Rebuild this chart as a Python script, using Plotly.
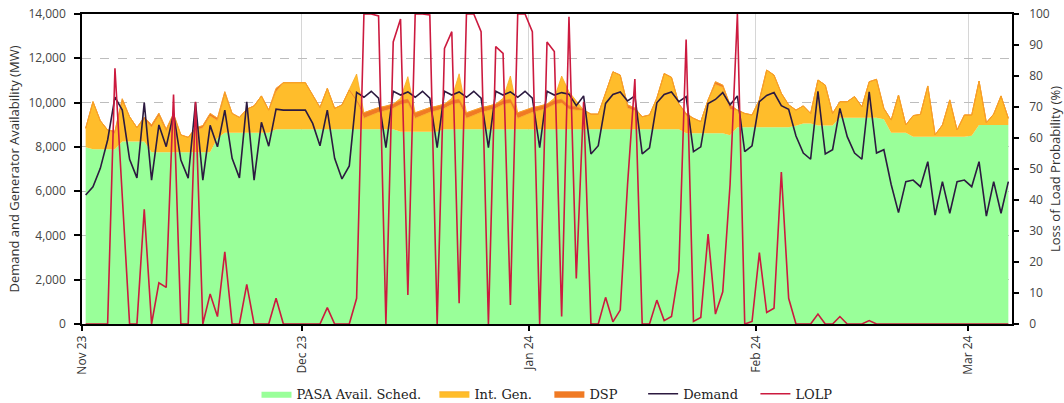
import pandas as pd
import plotly.graph_objects as go

# Daily values, 1 Nov 2023 .. 6 Mar 2024 (plotted at midday)
start_day = "2023-11-01 12:00"
n_days = 127

pasa = [7980, 7890, 7890, 7890, 7890, 8240, 8240, 8240, 8240, 7760,
        7760, 7760, 7760, 7760, 7760, 7760, 7760, 7760, 8400, 8640,
        8640, 8640, 8640, 8640, 8640, 8640, 8800, 8800, 8800, 8800,
        8800, 8800, 8800, 8800, 8800, 8800, 8800, 8800, 8800, 8800,
        8800, 8800, 8800, 8680, 8680, 8680, 8680, 8680, 8680, 8800,
        8800, 8800, 8800, 8800, 8800, 8800, 8800, 8800, 8800, 8800,
        8800, 8800, 8800, 8800, 8800, 8800, 8800, 8800, 8800, 8800,
        8800, 8800, 8800, 8800, 8800, 8800, 8800, 8800, 8800, 8800,
        8800, 8800, 8620, 8620, 8620, 8620, 8620, 8620, 8520, 8880,
        8880, 8880, 8880, 8880, 8880, 8880, 8880, 8950, 9050, 9050,
        8960, 8960, 8960, 9320, 9320, 9320, 9320, 9320, 9320, 9250,
        8640, 8640, 8640, 8460, 8460, 8460, 8460, 8460, 8460, 8460,
        8460, 8500, 8990, 8990, 8990, 8990, 8990]

# Int. Gen. drawn below the DSP band
int_gen = [860, 2150, 1290, 870, 720, 1800, 1120, 630, 1000, 1130,
           1640, 940, 1620, 780, 670, 990, 1100, 1630, 790, 1720,
           870, 690, 1060, 1210, 1660, 1020, 1690, 2100, 2100, 2100,
           2100, 1540, 980, 1840, 940, 1090, 1770, 1300, 490, 630,
           760, 840, 940, 1230, 1300, 610, 750, 880, 960, 940,
           1110, 1180, 490, 630, 760, 840, 940, 1110, 1180, 490,
           630, 760, 840, 940, 1110, 1180, 900, 860, 860, 680,
           680, 1620, 2590, 2440, 950, 830, 560, 640, 1400, 2510,
           2340, 1150, 790, 670, 520, 1500, 2200, 2070, 1170, 780,
           630, 560, 1240, 2590, 2360, 1540, 1020, 710, 800, 460,
           2060, 1830, 550, 720, 720, 950, 490, 1620, 1730, 490,
           570, 1700, 350, 950, 1010, 2290, 80, 530, 1660, 300,
           980, 940, 1980, 100, 490, 1310, 300]

dsp = [0, 0, 0, 0, 100, 130, 0, 0, 100, 100,
       120, 100, 120, 0, 0, 100, 100, 120, 100, 130,
       0, 0, 0, 0, 0, 0, 150, 0, 0, 0,
       0, 0, 0, 0, 0, 0, 0, 0, 250, 230,
       210, 200, 190, 180, 170, 250, 230, 210, 200, 190,
       180, 170, 250, 230, 210, 200, 190, 180, 170, 250,
       230, 210, 200, 190, 180, 170, 150, 150, 0, 0,
       0, 0, 0, 0, 150, 120, 0, 0, 0, 0,
       0, 0, 100, 0, 0, 0, 120, 100, 200, 0,
       0, 0, 0, 0, 0, 0, 0, 0, 0, 0,
       0, 0, 0, 0, 0, 0, 0, 0, 0, 0,
       0, 0, 0, 0, 0, 0, 0, 0, 0, 0,
       0, 0, 0, 0, 0, 0, 0]

# Int. Gen. peaks drawn above the DSP band
int_gen_peak = [0, 0, 0, 0, 0, 0, 0, 0, 0, 0,
                0, 0, 0, 0, 0, 0, 0, 0, 0, 0,
                0, 0, 0, 0, 0, 0, 0, 0, 0, 0,
                0, 0, 0, 0, 0, 0, 0, 1190, 0, 0,
                0, 0, 0, 100, 1020, 0, 0, 0, 0, 0,
                100, 1150, 0, 0, 0, 0, 0, 100, 1050, 0,
                0, 0, 0, 0, 100, 1050, 640, 240, 0, 0,
                0, 0, 0, 0, 0, 0, 0, 0, 0, 0,
                0, 0, 0, 0, 0, 0, 0, 0, 0, 0,
                0, 0, 0, 0, 0, 0, 0, 0, 0, 0,
                0, 0, 0, 0, 0, 0, 0, 0, 0, 0,
                0, 0, 0, 0, 0, 0, 0, 0, 0, 0,
                0, 0, 0, 0, 0, 0, 0]

demand = [5830, 6200, 7030, 8310, 10250, 9660, 7440, 6600, 10000, 6500,
          8990, 8010, 9500, 7400, 6590, 10000, 6500, 8970, 8000, 9660,
          7480, 6600, 10030, 6500, 9110, 8030, 9700, 9660, 9660, 9660,
          9660, 9060, 8050, 9660, 7480, 6550, 7140, 10460, 10240, 10510,
          10200, 7960, 10510, 10340, 10480, 10240, 10510, 10200, 7960, 10510,
          10340, 10480, 10240, 10510, 10200, 7960, 10510, 10340, 10480, 10240,
          10510, 10200, 7960, 10510, 10340, 10450, 10380, 9860, 10300, 7680,
          8050, 9960, 10370, 10480, 10070, 10300, 7680, 7960, 9990, 10370,
          10480, 10040, 10270, 7780, 8000, 9960, 10140, 10450, 9900, 10300,
          7780, 8050, 10040, 10320, 10450, 9860, 9700, 8490, 7720, 7440,
          10510, 7680, 7870, 9740, 8460, 7720, 7440, 10480, 7720, 7870,
          6300, 5030, 6430, 6500, 6200, 7330, 4920, 6430, 5000, 6430,
          6500, 6200, 7330, 4870, 6430, 5000, 6430]

lolp = [0, 0, 0, 0, 82.5, 43, 0, 0, 37, 0,
        13.3, 11.8, 74, 0, 0, 71.7, 0, 9.7, 2.4, 23.3,
        0, 0, 12.8, 0, 0, 0, 8.3, 0, 0, 0,
        0, 0, 0, 5.3, 0, 0, 0, 8.3, 100, 100,
        99.4, 0, 91, 98.4, 9.4, 100, 100, 99.7, 0, 88.9,
        94.3, 6.7, 100, 100, 94.3, 0, 89.5, 87.3, 6.1, 100,
        100, 94.3, 0, 91, 87.9, 2.4, 99.1, 14.7, 71.7, 0,
        0, 8.6, 0.7, 4.5, 45, 79, 0, 0, 7.7, 1.1,
        2.4, 17.2, 91.8, 0.8, 2.1, 29, 3.2, 10.4, 45, 100,
        0, 0.8, 23, 3.7, 5.1, 49, 8.3, 0, 0, 0,
        3.2, 0, 0, 2.4, 0, 0, 0, 1.1, 0, 0,
        0, 0, 0, 0, 0, 0, 0, 0, 0, 0,
        0, 0, 0, 0, 0, 0, 0]

days = pd.date_range(start_day, periods=n_days, freq="D")

GREEN = "#99ff99"
YELLOW = "#ffbd2b"
ORANGE = "#f07a24"
NB = "\u00a0"  # trailing spacing between legend entries

fig = go.Figure()
fig.add_trace(go.Scatter(x=days, y=pasa, name="PASA Avail. Sched." + NB * 2, stackgroup="gen",
                         mode="lines", line=dict(width=0, color=GREEN), fillcolor=GREEN))
fig.add_trace(go.Scatter(x=days, y=int_gen, name="Int. Gen." + NB * 3, stackgroup="gen",
                         mode="lines", line=dict(width=0.8, color="#f9a825"), fillcolor=YELLOW))
fig.add_trace(go.Scatter(x=days, y=dsp, name="DSP" + NB * 5, stackgroup="gen",
                         mode="lines", line=dict(width=0.8, color=ORANGE), fillcolor=ORANGE))
fig.add_trace(go.Scatter(x=days, y=int_gen_peak, name="Int. Gen.", stackgroup="gen",
                         showlegend=False, mode="lines",
                         line=dict(width=0.8, color="#f9a825"), fillcolor=YELLOW))
fig.add_trace(go.Scatter(x=days, y=demand, name="Demand" + NB * 3, mode="lines",
                         line=dict(width=1.6, color="#2c1a40")))
fig.add_trace(go.Scatter(x=days, y=lolp, name="LOLP", mode="lines", yaxis="y2",
                         line=dict(width=1.6, color="#cc1a3f")))

fig.update_layout(
    width=1064, height=403,
    margin=dict(l=82, r=52, t=14, b=79, autoexpand=False),
    paper_bgcolor="white", plot_bgcolor="white",
    font=dict(family="Open Sans", size=12, color="#444"),
    legend=dict(orientation="h", x=0.5, xanchor="center",
                y=0.06, yanchor="top", yref="container",
                traceorder="normal", font=dict(family="DejaVu Serif", size=13, color="#222"),
                itemwidth=30),
    xaxis=dict(type="date", range=["2023-11-01", "2024-03-07"],
               tick0="2023-11-01", dtick="M1", tickformat="%b %y", tickangle=-90,
               ticks="outside", ticklen=5, tickwidth=1.5, tickcolor="black",
               showline=True, linecolor="black", linewidth=1.5, mirror=True,
               showgrid=True, gridcolor="#d6d6d6", gridwidth=1, zeroline=False,
               tickfont=dict(size=12, color="#333")),
    yaxis=dict(range=[0, 14000], dtick=2000, tickformat=",", ticks="outside",
               ticklen=6, tickwidth=1.5, tickcolor="black",
               showline=True, linecolor="black", linewidth=1.5,
               showgrid=True, gridcolor="#bdbdbd", griddash="dash", gridwidth=1,
               zeroline=False, ticklabelstandoff=6, ticklabeloverflow="allow",
               title=dict(text="Demand and Generator Availability (MW)",
                          font=dict(size=13, color="#333"), standoff=6)),
    yaxis2=dict(range=[0, 100], dtick=10, overlaying="y", side="right",
                ticks="outside", ticklen=5, tickwidth=1.5, tickcolor="black",
                showline=True, linecolor="black", linewidth=1.5,
                showgrid=False, zeroline=False, ticklabelstandoff=8,
                ticklabeloverflow="allow",
                title=dict(text="Loss of Load Probability (%)",
                           font=dict(size=13, color="#333"), standoff=4)),
)

# Remove the default page margin so the figure sits at the window's corner.
fig.write_html("out.html", config={"displayModeBar": False},
               post_script="document.body.style.margin='0';")
